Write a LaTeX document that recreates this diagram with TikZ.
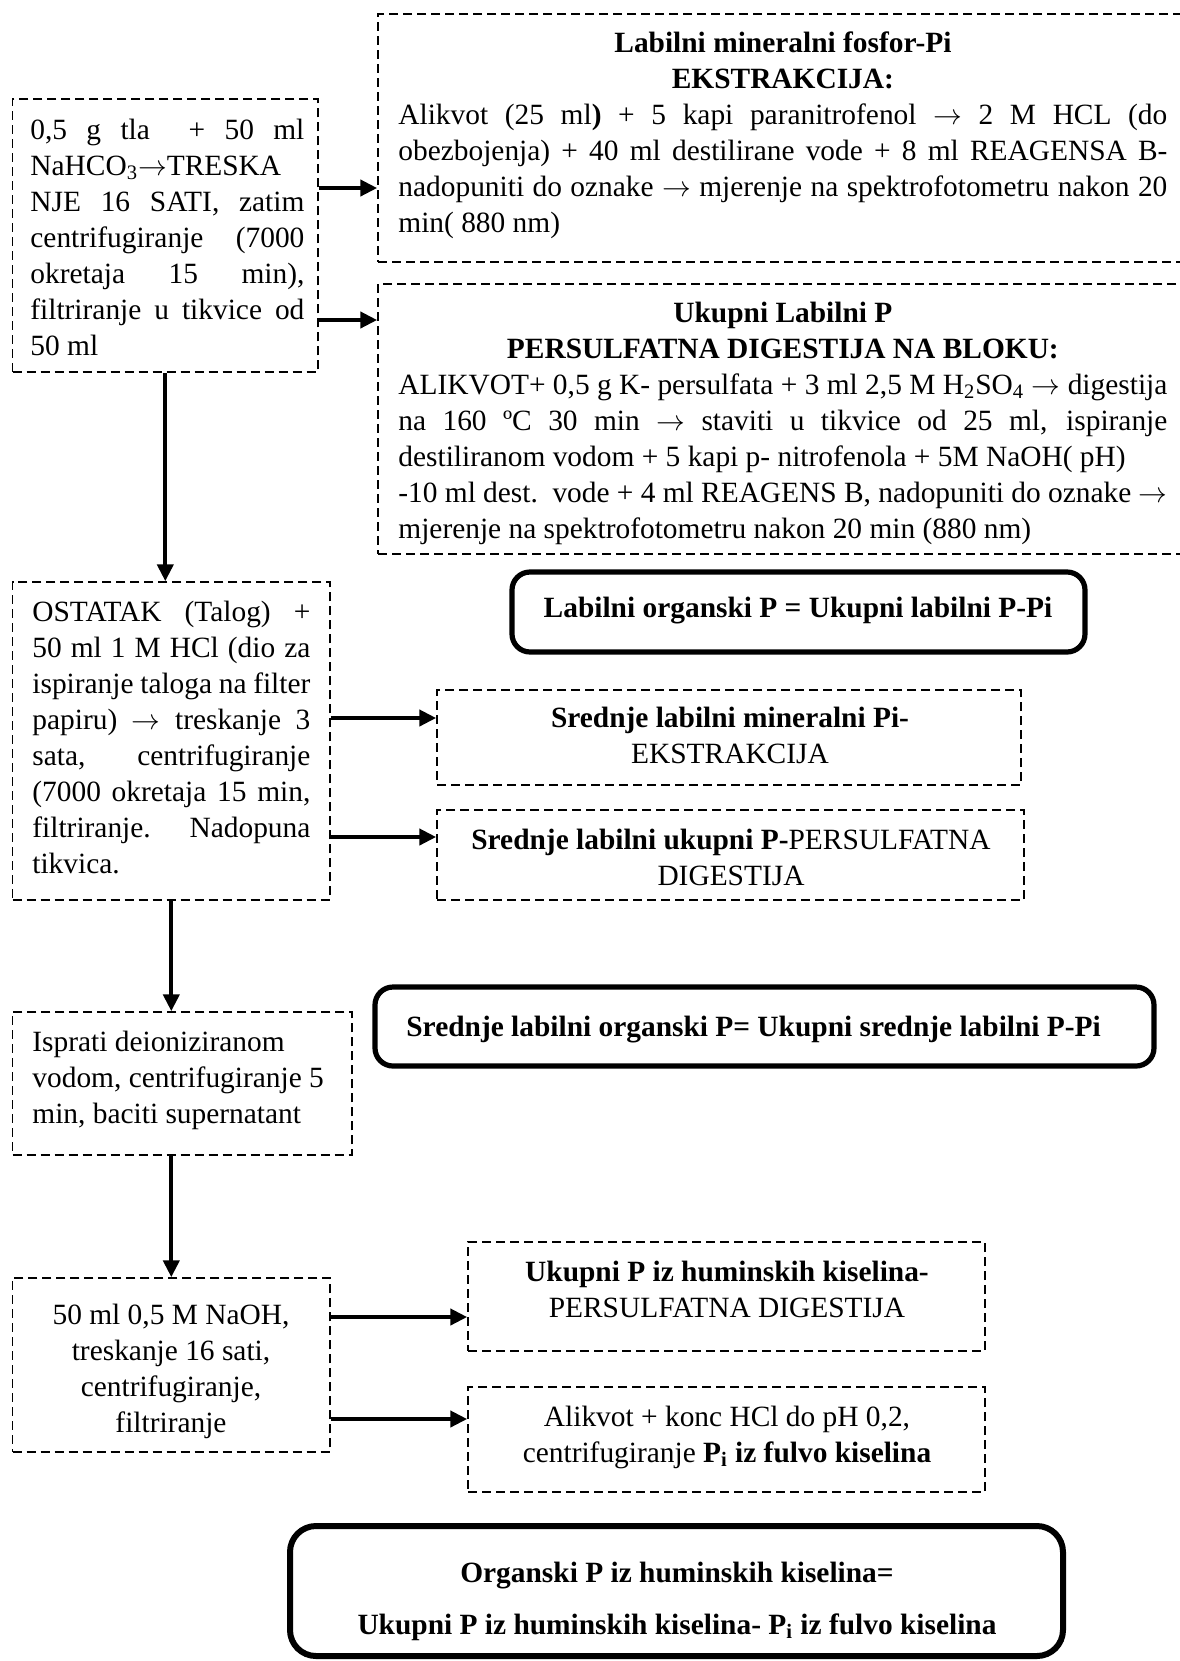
\documentclass[tikz,border=0pt]{standalone}
\usepackage{fontspec}
\setmainfont{Liberation Serif}
\usetikzlibrary{arrows.meta,fit}
\newcommand{\ar}{\ensuremath{\rightarrow}}
\begin{document}
\begin{tikzpicture}[x=0.5pt,y=-0.5pt, font=\fontsize{14.7}{18}\selectfont,
 dbox/.style={draw, dash pattern=on 4.5pt off 2.5pt, line width=0.75pt, inner sep=0pt},
 rbox/.style={draw, line width=2.6pt, rounded corners=9pt, inner sep=0pt},
 arr/.style={line width=2.1pt, -{Triangle[length=8.5pt,width=8pt]}},
 ctxt/.style={inner sep=0pt, anchor=north, align=center},
 jtxt/.style={inner sep=0pt, anchor=north west, align=justify},
 ltxt/.style={inner sep=0pt, anchor=north west, align=left},
]
\useasboundingbox (0,0) rectangle (1179,1661);
% boxes
\node[dbox, fit={(12.6,99)(318,372)}] (b1) {};
\node[dbox, fit={(378,14)(1195,262)}] (b2) {};
\node[dbox, fit={(378,284)(1195,554)}] (b3) {};
\node[dbox, fit={(12.6,582)(330,900)}] (b4) {};
\node[rbox, fit={(512,572)(1085,652)}] (r1) {};
\node[dbox, fit={(437,690)(1021,785)}] (b5) {};
\node[dbox, fit={(437,810)(1024,900)}] (b6) {};
\node[dbox, fit={(12.6,1012)(352,1155)}] (b7) {};
\node[rbox, fit={(375,987)(1154,1066)}] (r2) {};
\node[dbox, fit={(12.6,1278)(330,1452)}] (b8) {};
\node[dbox, fit={(468,1242)(985,1351)}] (b9) {};
\node[dbox, fit={(468,1387)(985,1492)}] (b10) {};
\node[rbox, line width=3pt, rounded corners=13pt, fit={(290,1526)(1063,1656)}] (r3) {};
% texts
\node[jtxt, text width=137pt] (t1) at (30,114) {\strut 0,5 g tla\ \ + 50 ml\linebreak NaHCO\textsubscript{3}\ar TRESKA\par NJE 16 SATI, zatim\linebreak centrifugiranje (7000\linebreak okretaja 15 min),\linebreak filtriranje u tikvice od\linebreak 50 ml};
\node[jtxt, text width=384.5pt] (t2) at (398,27) {{\centering\strut\textbf{Labilni mineralni fosfor-Pi}\\\textbf{EKSTRAKCIJA:}\par}Alikvot (25 ml\textbf{)} + 5 kapi paranitrofenol \ar\ 2 M HCL (do\linebreak obezbojenja) + 40 ml destilirane vode + 8 ml REAGENSA B-\linebreak nadopuniti do oznake \ar\ mjerenje na spektrofotometru nakon 20\linebreak min( 880 nm)};
\node[jtxt, text width=384.5pt] (t3) at (398,297) {{\centering\strut\textbf{Ukupni Labilni P}\\\textbf{PERSULFATNA DIGESTIJA NA BLOKU:}\par}ALIKVOT+ 0,5 g K- persulfata + 3 ml 2,5 M H\textsubscript{2}SO\textsubscript{4} \ar\ digestija\linebreak na 160 ºC 30 min \ar\ staviti u tikvice od 25 ml, ispiranje\linebreak destiliranom vodom + 5 kapi p- nitrofenola + 5M NaOH( pH)\par -10 ml dest.\ \ vode + 4 ml REAGENS B, nadopuniti do oznake \ar\linebreak mjerenje na spektrofotometru nakon 20 min (880 nm)};
\node[jtxt, text width=139pt] (t4) at (32,596) {\strut OSTATAK (Talog) +\linebreak 50 ml 1 M HCl (dio za\linebreak ispiranje taloga na filter\linebreak papiru) \ar\ treskanje 3\linebreak sata, centrifugiranje\linebreak (7000 okretaja 15 min,\linebreak filtriranje. Nadopuna\linebreak tikvica.};
\node[ctxt] (tr1) at (798,592) {\strut\textbf{Labilni organski P = Ukupni labilni P-Pi}};
\node[ctxt] (t5) at (730,702) {\strut\textbf{Srednje labilni mineralni Pi-}\\EKSTRAKCIJA};
\node[ctxt] (t6) at (731,824) {\strut\textbf{Srednje labilni ukupni P-}PERSULFATNA\\DIGESTIJA};
\node[ltxt] (t7) at (32,1026) {\strut Isprati deioniziranom\\vodom, centrifugiranje 5\\min, baciti supernatant};
\node[inner sep=0pt, anchor=north west] (tr2) at (406,1011) {\strut\textbf{Srednje labilni organski P= Ukupni srednje labilni P-Pi}};
\node[ctxt] (t8) at (171,1299) {\strut 50 ml 0,5 M NaOH,\\treskanje 16 sati,\\centrifugiranje,\\filtriranje};
\node[ctxt] (t9) at (727,1256) {\strut\textbf{Ukupni P iz huminskih kiselina-}\\PERSULFATNA DIGESTIJA};
\node[ctxt] (t10) at (727,1401) {\strut Alikvot + konc HCl do pH 0,2,\\centrifugiranje \textbf{P\textsubscript{i} iz fulvo kiselina}};
\node[ctxt] (tr3) at (677,1557) {\strut\textbf{Organski P iz huminskih kiselina=}\\[8pt]\textbf{Ukupni P iz huminskih kiselina- P\textsubscript{i} iz fulvo kiselina}};
% arrow rows
\coordinate (y1) at (0,188);
\coordinate (y2) at (0,320);
\coordinate (y3) at (0,718);
\coordinate (y4) at (0,837);
\coordinate (y5) at (0,1317);
\coordinate (y6) at (0,1419);
\draw[arr] (b1.east |- y1) -- (b2.west |- y1);
\draw[arr] (b1.east |- y2) -- (b3.west |- y2);
\draw[arr] (b1.south) -- (b4.north -| b1.south);
\draw[arr] (b4.east |- y3) -- (b5.west |- y3);
\draw[arr] (b4.east |- y4) -- (b6.west |- y4);
\draw[arr] (b4.south) -- (b7.north -| b4.south);
\draw[arr] (b7.south -| b8.north) -- (b8.north);
\draw[arr] (b8.east |- y5) -- (b9.west |- y5);
\draw[arr] (b8.east |- y6) -- (b10.west |- y6);
\end{tikzpicture}
\end{document}
